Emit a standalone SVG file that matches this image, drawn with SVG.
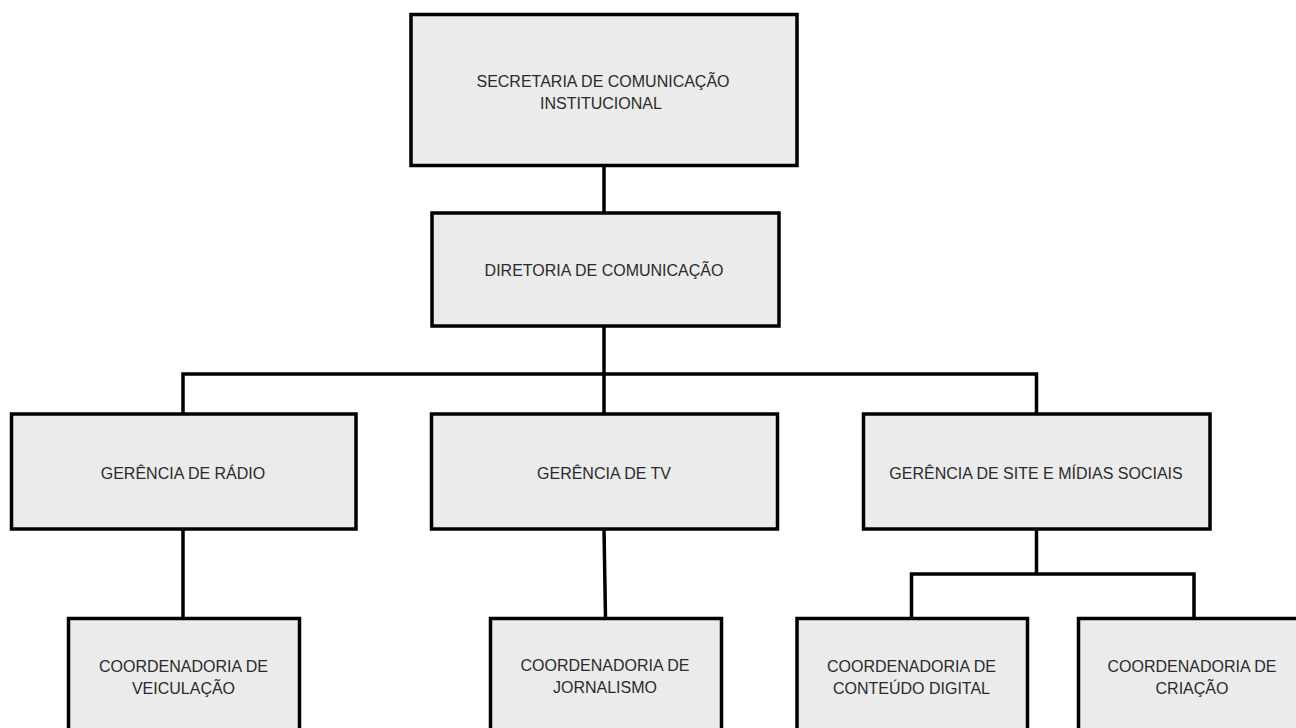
<svg xmlns="http://www.w3.org/2000/svg" width="1296" height="728" viewBox="0 0 1296 728">
<style>
.box{fill:#ebebeb;stroke:#000;stroke-width:3.5}
.lbl{font-family:"Liberation Sans",Arial,sans-serif;font-size:16px;fill:#2a2a2a;text-anchor:middle}
.edge{fill:none;stroke:#000;stroke-width:3.5;stroke-linejoin:miter}
</style>
<rect width="1296" height="728" fill="#fff"/>
<g id="connectors">
<path class="edge" d="M604 166 V213"/>
<path class="edge" d="M604 326 V414"/>
<path class="edge" d="M183 414 V374 H1036.5 V414"/>
<path class="edge" d="M183 529 V618.5"/>
<path class="edge" d="M604 529 L605.5 618.5"/>
<path class="edge" d="M1036.5 529 V574"/>
<path class="edge" d="M911.5 618.5 V574 H1194 V618.5"/>
</g>
<g id="secretaria">
<rect class="box" x="411" y="14.5" width="386" height="151"/>
<text class="lbl" x="603" y="87">SECRETARIA DE COMUNICAÇÃO</text>
<text class="lbl" x="601" y="108.5">INSTITUCIONAL</text>
</g>
<g id="diretoria">
<rect class="box" x="432" y="213" width="347" height="113"/>
<text class="lbl" x="604" y="276">DIRETORIA DE COMUNICAÇÃO</text>
</g>
<g id="gerencia-radio">
<rect class="box" x="11.5" y="414" width="344.5" height="115"/>
<text class="lbl" x="183" y="478.5">GERÊNCIA DE RÁDIO</text>
</g>
<g id="gerencia-tv">
<rect class="box" x="431.5" y="414" width="346" height="115"/>
<text class="lbl" x="604" y="478.5">GERÊNCIA DE TV</text>
</g>
<g id="gerencia-site">
<rect class="box" x="863.5" y="414" width="346.5" height="115"/>
<text class="lbl" x="1036" y="479">GERÊNCIA DE SITE E MÍDIAS SOCIAIS</text>
</g>
<g id="coord-veiculacao">
<rect class="box" x="68.5" y="618.5" width="231" height="130"/>
<text class="lbl" x="183.5" y="672">COORDENADORIA DE</text>
<text class="lbl" x="183.5" y="693.5">VEICULAÇÃO</text>
</g>
<g id="coord-jornalismo">
<rect class="box" x="490.5" y="618.5" width="231" height="130"/>
<text class="lbl" x="605" y="671">COORDENADORIA DE</text>
<text class="lbl" x="605" y="692.5">JORNALISMO</text>
</g>
<g id="coord-conteudo">
<rect class="box" x="797" y="618.5" width="230.5" height="130"/>
<text class="lbl" x="911.5" y="672">COORDENADORIA DE</text>
<text class="lbl" x="911.5" y="693.5">CONTEÚDO DIGITAL</text>
</g>
<g id="coord-criacao">
<rect class="box" x="1078.5" y="618.5" width="231" height="130"/>
<text class="lbl" x="1192" y="672">COORDENADORIA DE</text>
<text class="lbl" x="1192" y="693.5">CRIAÇÃO</text>
</g>
</svg>
